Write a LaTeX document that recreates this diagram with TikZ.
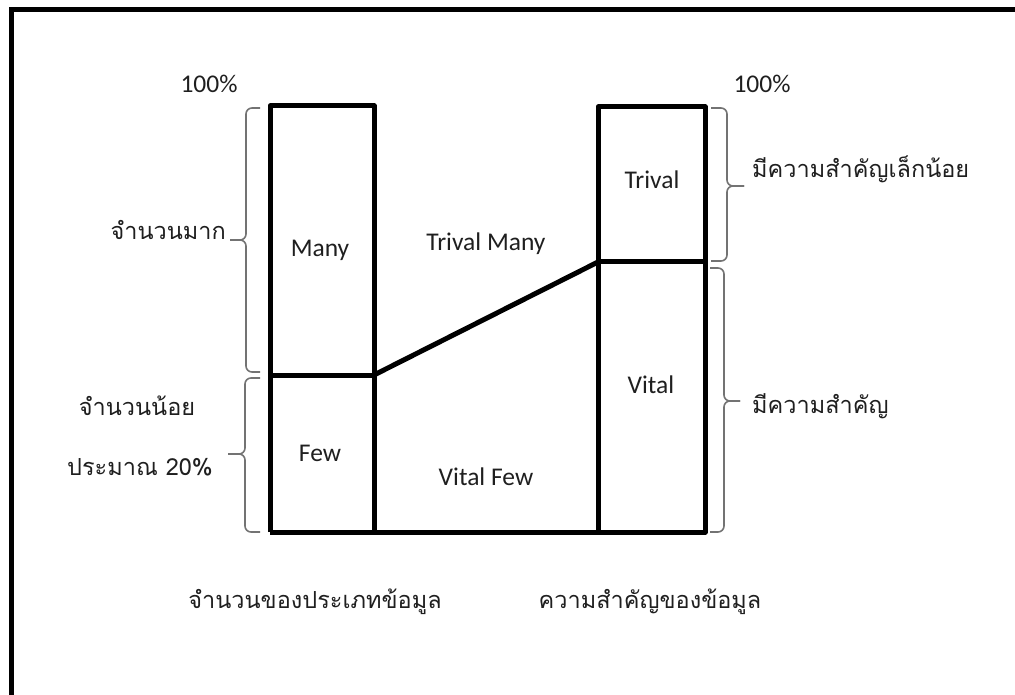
\documentclass[tikz,border=0pt]{standalone}
\usepackage{fontspec}
\setmainfont{Carlito}
\newfontfamily\thai[Script=Thai]{Loma}
\begin{document}
\begin{tikzpicture}[x=1pt,y=-1pt,
  bar/.style={line width=5pt, line join=round},
  frame/.style={line width=5pt},
  brace/.style={draw=black!55, line width=1.6pt, rounded corners=6pt},
  lbl/.style={font=\fontsize{25.5}{30}\selectfont, inner sep=0pt, text=black!88},
  thl/.style={font=\thai\fontsize{23.5}{28}\selectfont, inner sep=0pt, text=black!88}]
\useasboundingbox (0,0) rectangle (1015,695);

% outer frame (left and top edges)
\coordinate (fb) at (11,695);
\coordinate (fc) at (11,9.5);
\coordinate (fr) at (1015,9.5);
\draw[frame] (fb) -- (fc) -- (fr);

% corners of the two columns
\coordinate (LTL) at (270,106);
\coordinate (LTR) at (374,106);
\coordinate (LML) at (270,375);
\coordinate (LMR) at (374,375);
\coordinate (LBL) at (270,532);
\coordinate (LBR) at (374,532);
\coordinate (RTL) at (598,107);
\coordinate (RTR) at (705,107);
\coordinate (RML) at (598,262);
\coordinate (RMR) at (705,262);
\coordinate (RBL) at (598,532);
\coordinate (RBR) at (705,532);

% columns
\draw[bar] (LBL) -- (LTL) -- (LTR) -- (LBR);
\draw[bar] (LML) -- (LMR);
\draw[bar] (LBL) -- (RBR) -- (RTR) -- (RTL) -- (RBL);
\draw[bar] (RML) -- (RMR);
\draw[bar] (LMR) -- (RML);

% braces
\draw[brace] (260,108) -- (246,108) -- (246,240) -- (230,240);
\draw[brace] (230,240) -- (246,240) -- (246,372) -- (260,372);
\draw[brace] (260,378) -- (245,378) -- (245,454) -- (228,454);
\draw[brace] (228,454) -- (245,454) -- (245,532) -- (260,532);
\draw[brace] (711,108) -- (727,108) -- (727,186) -- (744,186);
\draw[brace] (744,186) -- (727,186) -- (727,261) -- (711,261);
\draw[brace] (710,268) -- (724,268) -- (724,401) -- (740,401);
\draw[brace] (740,401) -- (724,401) -- (724,532) -- (710,532);

% labels
\node[lbl, anchor=base] (pl) at (209,93) {100\%};
\node[lbl, anchor=base] (pr) at (762,93) {100\%};
\node[lbl, anchor=base] (many) at (320,257) {Many};
\node[lbl, anchor=base] (few) at (320,461) {Few};
\node[lbl, anchor=base] (trival) at (652,189) {Trival};
\node[lbl, anchor=base] (vital) at (651,393) {Vital};
\node[lbl, anchor=base] (tm) at (486,251) {Trival Many};
\node[lbl, anchor=base] (vf) at (486,485) {Vital Few};

\node[thl, anchor=base east] (mak) at (226,240) {จำนวนมาก};
\node[thl, anchor=base] (noi) at (137,415) {จำนวนน้อย};
\node[thl, anchor=base] (pm) at (140,475) {ประมาณ 20\%};
\node[thl, anchor=base west] (lek) at (752,178) {มีความสำคัญเล็กน้อย};
\node[thl, anchor=base west] (sam) at (752,413) {มีความสำคัญ};
\node[thl, anchor=base] (cnt) at (315,608) {จำนวนของประเภทข้อมูล};
\node[thl, anchor=base] (imp) at (650,608) {ความสำคัญของข้อมูล};
\end{tikzpicture}
\end{document}
